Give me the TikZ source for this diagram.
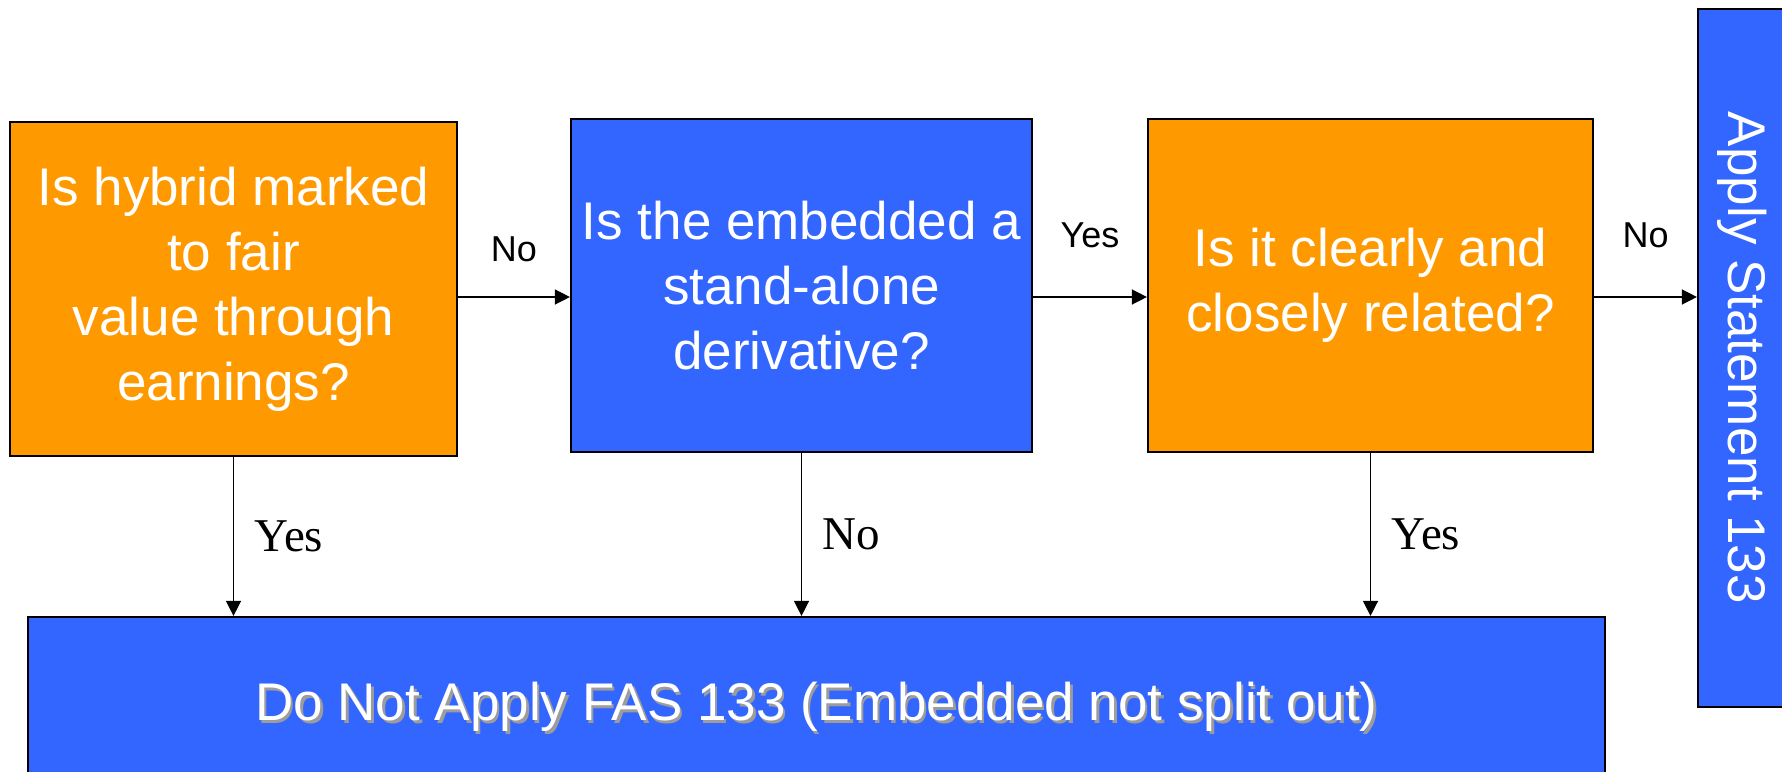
\documentclass[tikz,border=0pt]{standalone}
\usepackage{fontspec}
\setsansfont{Liberation Sans}
\newfontfamily\answerfont{Liberation Serif}
\usepackage{tikz}
\usetikzlibrary{arrows.meta,positioning}
\definecolor{qorange}{HTML}{FF9900}
\definecolor{qblue}{HTML}{3366FF}
\definecolor{shadowgray}{HTML}{9C9C9C}
\newcommand{\shadowed}[1]{\leavevmode\rlap{\kern1.3pt\raisebox{-1.3pt}{\textcolor{shadowgray}{#1}}}#1}
\tikzset{>={Triangle[length=7.5pt,width=7.5pt]},
         every path/.style={line width=0.7pt},
         question/.style={draw=black, line width=1.1pt, text=white, inner sep=0pt,
           align=center, font=\sffamily\fontsize{26.5}{32.5}\selectfont}}
\tikzstyle{labeled}=[font=\sffamily\fontsize{18}{20}\selectfont]
\tikzstyle{answer}=[font=\answerfont\fontsize{23.5}{26}\selectfont]

\begin{document}
\begin{tikzpicture}[x=1pt,y=1pt]
   \useasboundingbox (0,0) rectangle (891,-385.5);
   % the three questions
   \node[question, fill=qorange, minimum width=223.5pt, minimum height=167pt] (q1) at (116.75,-144.5)
     {Is hybrid marked\\ to fair\\ value through\\ earnings?};
   \node[question, fill=qblue, minimum width=230.5pt, minimum height=166.5pt] (q2) at (400.75,-142.75)
     {Is the embedded a\\ stand-alone\\ derivative?};
   \node[question, fill=qorange, minimum width=222.5pt, minimum height=166.5pt] (q3) at (685.25,-142.75)
     {Is it clearly and\\ closely related?};
   % outcomes
   \node[question, fill=qblue, rotate=-90, minimum width=349pt, minimum height=44pt] (apply) at (871,-179)
     {Apply Statement 133};
   \node[question, fill=qblue, minimum width=788.5pt, minimum height=91.5pt] (final) at (408.25,-354.25)
     {\shadowed{Do Not Apply FAS 133 (Embedded not split out)}};
   \coordinate (row) at (0,-148.5);
   % answers
   \draw[->] (q1.east |- row) -- (q2.west |- row) node[midway, above=13.7pt, labeled] {No};
   \draw[->] (q2.east |- row) -- (q3.west |- row) node[midway, above=21pt, labeled] {Yes};
   \draw[->] (q3.east |- row) -- (apply.south |- row) node[midway, above=21pt, labeled] {No};
   \draw[->] (q1.south) -- (q1.south |- final.north) node[midway, right=7pt, answer] {Yes};
   \draw[->] (q2.south) -- (q2.south |- final.north) node[midway, right=7pt, answer] {No};
   \draw[->] (q3.south) -- (q3.south |- final.north) node[midway, right=7pt, answer] {Yes};
\end{tikzpicture}
\end{document}
